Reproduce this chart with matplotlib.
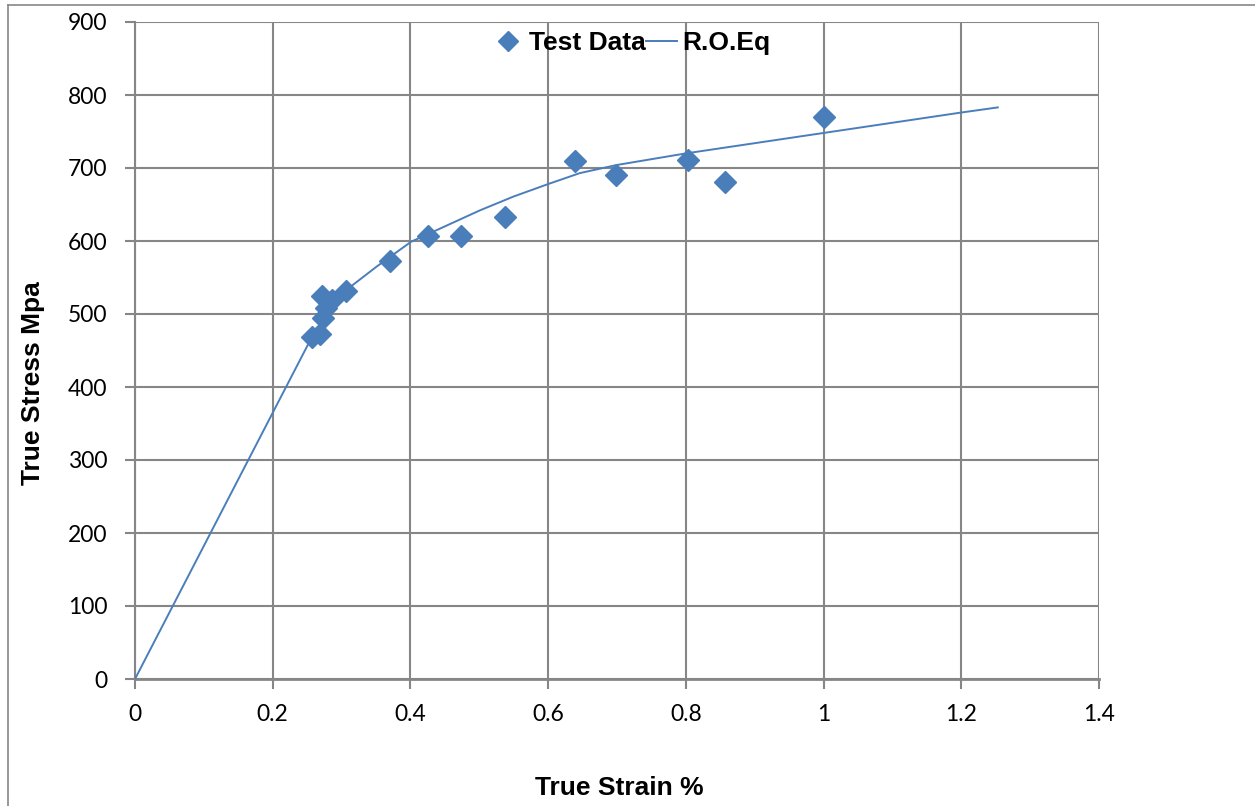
import matplotlib
matplotlib.use("Agg")
import matplotlib.pyplot as plt
from matplotlib.lines import Line2D

# Test data (true strain %, true stress MPa)
test_strain = [0.257, 0.269, 0.273, 0.278, 0.271, 0.286, 0.307, 0.370, 0.425,
               0.473, 0.538, 0.639, 0.699, 0.803, 0.857, 1.001]
test_stress = [468, 473, 494, 508, 525, 519, 531, 572, 607,
               607, 633, 709, 690, 711, 681, 770]

# Ramberg-Osgood equation curve
ro_strain = [0, 0.255, 0.28, 0.307, 0.351, 0.401, 0.443, 0.501, 0.55,
             0.6, 0.646, 0.699, 0.8, 0.9, 1.0, 1.1, 1.2, 1.253]
ro_stress = [0, 465, 500, 533, 565, 599, 617, 642, 661,
             678, 693, 704, 720, 734, 748, 762, 776, 783]

x_ticks = [0, 0.2, 0.4, 0.6, 0.8, 1, 1.2, 1.4]
x_ticklabels = ["0", "0.2", "0.4", "0.6", "0.8", "1", "1.2", "1.4"]
y_ticks = [0, 100, 200, 300, 400, 500, 600, 700, 800, 900]

BLUE = "#4A7EBB"
GRID = "#868686"
BOLD_FAM = ["Liberation Sans", "DejaVu Sans"]

fig = plt.figure(figsize=(12.55, 8.06), dpi=100)
ax = fig.add_axes([135 / 1255, 1 - 679 / 806, (1099 - 135) / 1255, (679 - 22) / 806])

ax.plot(ro_strain, ro_stress, color=BLUE, lw=1.4, zorder=3)
ax.plot(test_strain, test_stress, linestyle="none", marker="D", ms=11,
        color=BLUE, markeredgecolor=BLUE, zorder=4)

ax.set_xlim(0, 1.4)
ax.set_ylim(0, 900)
ax.set_xticks(x_ticks)
ax.set_xticklabels(x_ticklabels)
ax.set_yticks(y_ticks)
ax.grid(True, color=GRID, lw=1.5, zorder=0)
ax.set_axisbelow(True)
for s in ["top", "right"]:
    ax.spines[s].set_visible(False)
for s in ["left", "bottom"]:
    ax.spines[s].set_color(GRID)
ax.spines["left"].set_linewidth(1.5)
ax.spines["bottom"].set_linewidth(2.0)
ax.tick_params(axis="both", direction="out", length=7, width=1.5, color=GRID,
               labelsize=16.5)
ax.tick_params(axis="y", pad=13)
ax.tick_params(axis="x", pad=11)
for lab in ax.get_xticklabels() + ax.get_yticklabels():
    lab.set_family(["Lato", "DejaVu Sans"])

ax.set_xlabel("True Strain %", fontsize=19, fontweight="bold", family=BOLD_FAM)
ax.xaxis.set_label_coords(0.502, -0.148)
ax.set_ylabel("True Stress Mpa", fontsize=19, fontweight="bold", family=BOLD_FAM)
ax.yaxis.set_label_coords(-0.093, 0.45)

handles = [Line2D([], [], linestyle="none", marker="D", ms=10, color=BLUE),
           Line2D([], [], color=BLUE, lw=1.4)]
leg = ax.legend(handles, ["Test Data", "R.O.Eq"], loc="center",
                bbox_to_anchor=(0.515, 0.968), ncol=2, frameon=False,
                prop={"family": BOLD_FAM, "weight": "bold", "size": 19},
                handlelength=1.2, handletextpad=0.2, columnspacing=0.0,
                borderpad=0.0, borderaxespad=0.0)

# outer border (left and top visible)
fig.add_artist(Line2D([8 / 1255, 8 / 1255], [0, 1 - 5 / 806], color="#888888", lw=1.2,
                      transform=fig.transFigure))
fig.add_artist(Line2D([8 / 1255, 1], [1 - 5 / 806, 1 - 5 / 806], color="#888888", lw=1.2,
                      transform=fig.transFigure))

fig.savefig("out.png", dpi=100)
